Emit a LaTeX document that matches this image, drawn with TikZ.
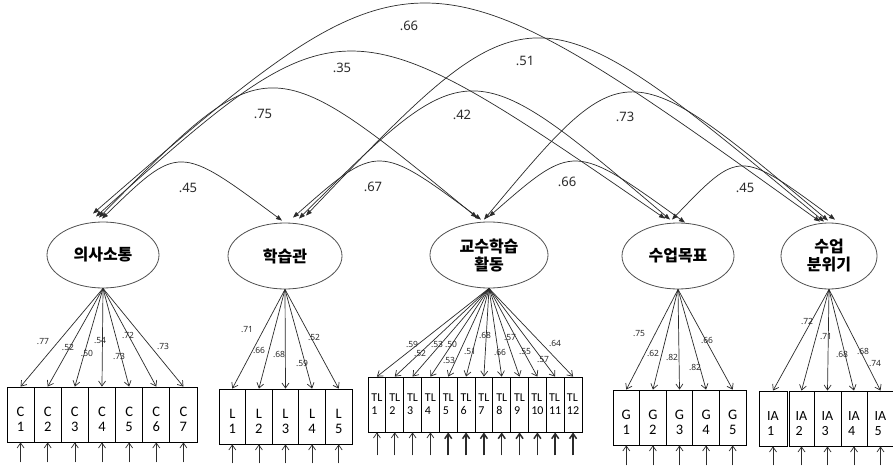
\documentclass[tikz,border=0pt]{standalone}
\usepackage{fontspec}
\setmainfont{Noto Sans}
\newfontfamily\krfont{Noto Sans CJK KR}
\newfontfamily\itemfont{Carlito}
\usetikzlibrary{arrows.meta,shapes.geometric}
\definecolor{ink}{HTML}{2B2B2B}
\definecolor{rim}{HTML}{505050}
\begin{document}
\begin{tikzpicture}[x=1pt,y=-1pt,
  latent/.style={ellipse, draw=rim, line width=0.8pt, minimum width=#1,
    minimum height=66pt, inner sep=0pt, align=center,
    font=\krfont\bfseries\fontsize{16}{18}\selectfont},
  latent/.default=112pt,
  obs/.style={draw=black, line width=0.8pt, minimum width=#1,
    minimum height=55pt, inner sep=0pt},
  obstext/.style={inner sep=0pt, align=center,
    font=\itemfont\fontsize{14.5}{15}\selectfont},
  obstextl/.style={inner sep=0pt, align=left,
    font=\itemfont\fontsize{14}{15}\selectfont},
  tltext/.style={inner sep=0pt, align=left,
    font=\itemfont\fontsize{12}{13}\selectfont},
  load/.style={draw=ink, line width=0.7pt, -{Straight Barb[length=5pt,width=7pt]}},
  err/.style={draw=ink, line width=#1, -{Straight Barb[length=5pt,width=7pt]}},
  err/.default=0.7pt,
  cov/.style={draw=ink, line width=0.7pt,
    {Triangle[length=6pt,width=4.5pt]}-{Triangle[length=6pt,width=4.5pt]}},
  rlabel/.style={inner sep=0pt, text=ink, font=\fontsize{13}{15}\selectfont},
  wlabel/.style={inner sep=0pt, text=ink, font=\fontsize{8.5}{10}\selectfont},
]
\fill[white] (0,0) rectangle (893,468);
\useasboundingbox (0,0) rectangle (893,468);

% latent factors
\node[latent=112pt] (f1) at (103,255) {의사소통};
\node[latent=114pt] (f2) at (285,256) {학습관};
\node[latent=118pt] (f3) at (489,255) {교수학습\\활동};
\node[latent=112pt] (f4) at (678,256) {수업목표};
\node[latent=96pt]  (f5) at (829,256) {수업\\분위기};

% indicators: communication
\foreach \i in {1,...,7}{
  \node[obs=27.14pt] (c\i) at ({7+27.14*(\i-0.5)},414.5) {};
  \node[obstext] (ct\i) at ([yshift=-5pt]c\i.center) {C\\\i};
  \draw[load] (f1.south) -- (c\i.north);
  \coordinate (ce\i) at ([yshift=-20pt]c\i.south);
  \draw[err] (ce\i) -- (c\i.south);
}
% indicators: learning attitude
\foreach \i in {1,...,5}{
  \node[obs=26.6pt] (l\i) at ({219+26.6*(\i-0.5)},416.5) {};
  \node[obstext] (lt\i) at ([yshift=-5pt]l\i.center) {L\\\i};
  \draw[load] (f2.south) -- (l\i.north);
  \coordinate (le\i) at ([yshift=-19pt]l\i.south);
  \draw[err] (le\i) -- (l\i.south);
}
% indicators: teaching and learning activities
\foreach \i/\w in {1/0.7pt,2/0.7pt,3/0.7pt,4/0.7pt,5/1.5pt,6/1.5pt,7/1.5pt,8/1.5pt,9/1.5pt,10/1.5pt,11/1.5pt,12/1.5pt}{
  \node[obs=17.83pt] (tl\i) at ({368+17.83*(\i-0.5)},404.5) {};
  \node[tltext] (tlt\i) at (tl\i.center) {TL\\\i};
  \draw[load] (f3.south) -- (tl\i.north);
  \coordinate (tle\i) at ([yshift=-23pt]tl\i.south);
  \draw[err=\w] (tle\i) -- (tl\i.south);
}
% indicators: lesson goals
\foreach \i in {1,...,5}{
  \node[obs=26.6pt] (g\i) at ({613+26.6*(\i-0.5)},417.5) {};
  \node[obstext] (gt\i) at ([yshift=-5pt]g\i.center) {G\\\i};
  \draw[load] (f4.south) -- (g\i.north);
  \coordinate (ge\i) at ([yshift=-20pt]g\i.south);
  \draw[err] (ge\i) -- (g\i.south);
}
% indicators: class atmosphere
\foreach \i/\cx/\w in {1/773/28,2/801.5/25,3/827.5/27,4/854/26,5/880.5/27}{
  \node[obs=\w pt] (ia\i) at (\cx,418.5) {};
  \node[obstextl] (iat\i) at ([yshift=-5pt]ia\i.center) {IA\\\i};
  \draw[load] (f5.south) -- (ia\i.north);
  \coordinate (iae\i) at ([yshift=-19pt]ia\i.south);
  \draw[err] (iae\i) -- (ia\i.south);
}

% loadings
\foreach \x/\y/\t in {43/342/.77,68/347/.52,87/353/.50,100/341/.54,119/356/.73,128/335/.72,163/346/.73}
  \node[wlabel] at (\x,\y) {\t};
\foreach \x/\y/\t in {247/330/.71,259/350/.66,279/354/.68,302/363/.59,314/337/.52}
  \node[wlabel] at (\x,\y) {\t};
\foreach \x/\y/\t in {412/344/.59,420/353/.52,437/344/.53,451/344/.50,449/360/.53,470/352/.51,485/335/.68,500/352/.66,510/338/.57,525/352/.55,543/360/.57,555/343/.64}
  \node[wlabel] at (\x,\y) {\t};
\foreach \x/\y/\t in {639/334/.75,653/353/.62,672/357/.82,695/367/.82,707/340/.66}
  \node[wlabel] at (\x,\y) {\t};
\foreach \x/\y/\t in {807/321/.72,826/337/.71,842/354/.68,863/351/.68,875/364/.74}
  \node[wlabel] at (\x,\y) {\t};

% covariance end points on the factor tops
\coordinate (a1) at ([xshift=-10pt,yshift=8pt]f1.north);
\coordinate (a2) at ([xshift=-7pt,yshift=5pt]f1.north);
\coordinate (a3) at ([xshift=-4pt,yshift=4pt]f1.north);
\coordinate (a4) at ([xshift=-1pt,yshift=3pt]f1.north);
\coordinate (b1) at ([xshift=-3pt,yshift=2pt]f2.north);
\coordinate (b2) at ([xshift=8pt,yshift=5pt]f2.north);
\coordinate (b3) at ([xshift=14pt,yshift=4pt]f2.north);
\coordinate (b4) at ([xshift=21pt,yshift=7pt]f2.north);
\coordinate (d1) at ([xshift=-12pt,yshift=4pt]f3.north);
\coordinate (d2) at ([xshift=-8pt,yshift=2pt]f3.north);
\coordinate (d3) at ([xshift=-5pt,yshift=2pt]f3.north);
\coordinate (d4) at ([xshift=0pt,yshift=5pt]f3.north);
\coordinate (h1) at ([xshift=-13pt,yshift=4pt]f4.north);
\coordinate (h2) at ([xshift=-8pt,yshift=3pt]f4.north);
\coordinate (h3) at ([xshift=-6pt,yshift=3pt]f4.north);
\coordinate (h4) at ([xshift=7pt,yshift=0pt]f4.north);
\coordinate (k1) at ([xshift=-9pt,yshift=1pt]f5.north);
\coordinate (k2) at ([xshift=-5pt,yshift=1pt]f5.north);
\coordinate (k3) at ([xshift=-1pt,yshift=2pt]f5.north);
\coordinate (k4) at ([xshift=6pt,yshift=3pt]f5.north);

% covariances
\draw[cov] (a4) .. controls (178.7,144) .. (b1);
\draw[cov] (a3) .. controls (268,46) .. (d1);
\draw[cov] (a2) .. controls (342.5,-3.3) .. (h1);
\draw[cov] (a1) .. controls (417.2,-67.3) .. (k1);
\draw[cov] (b2) .. controls (377.7,143) .. (d2);
\draw[cov] (b3) .. controls (469.2,49.5) .. (h2);
\draw[cov] (b4) .. controls (531.7,-21) .. (k2);
\draw[cov] (d4) .. controls (573.7,142.7) .. (h4);
\draw[cov] (d3) .. controls (625.3,50.5) .. (k3);
\draw[cov] (h3) .. controls (739.5,149.3) .. (k4);

% correlations
\node[rlabel] (r12) at (188,188) {.45};
\node[rlabel] (r13) at (263,114) {.75};
\node[rlabel] (r14) at (342,68) {.35};
\node[rlabel] (r15) at (409,26) {.66};
\node[rlabel] (r23) at (373,187) {.67};
\node[rlabel] (r24) at (462,115) {.42};
\node[rlabel] (r25) at (525,61) {.51};
\node[rlabel] (r34) at (567,182) {.66};
\node[rlabel] (r35) at (625,117) {.73};
\node[rlabel] (r45) at (745,188) {.45};
\end{tikzpicture}
\end{document}
